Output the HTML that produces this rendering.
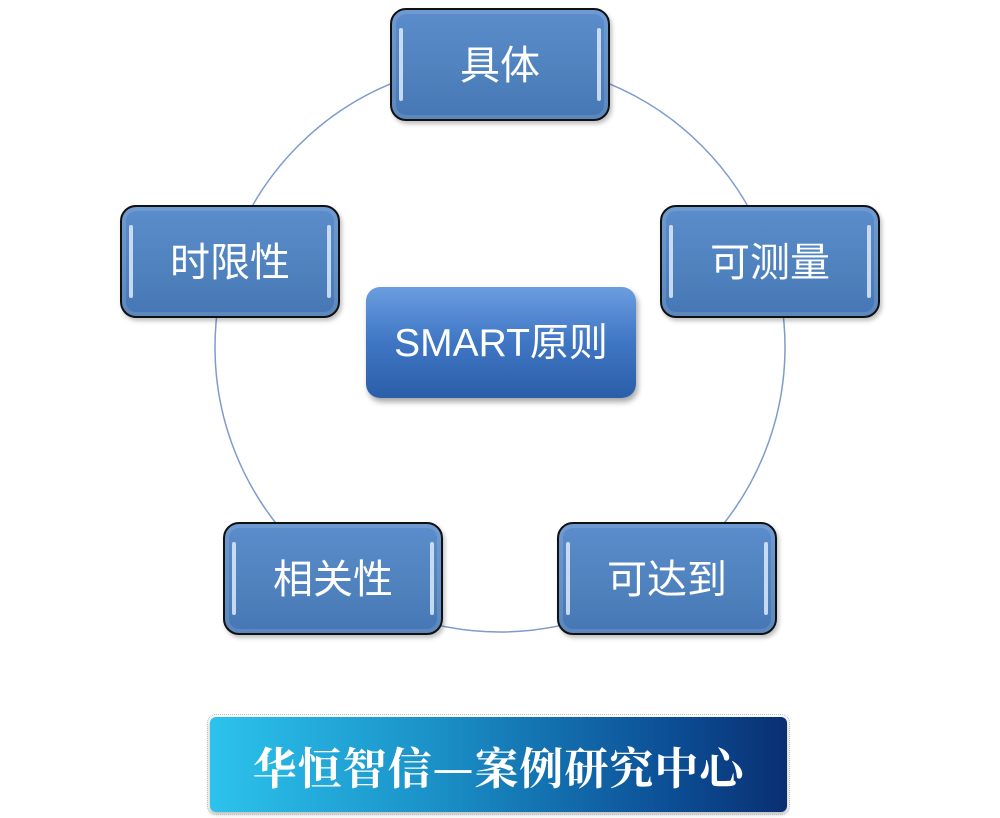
<!DOCTYPE html>
<html><head><meta charset="utf-8"><style>
body{margin:0;width:1000px;height:818px;background:#fff;position:relative;overflow:hidden;font-family:"Liberation Sans","Noto Sans CJK SC",sans-serif}
.b{position:absolute;width:216px;height:109px;border:2px solid #111;border-radius:16px;background:linear-gradient(#5b8dcc,#4f81bd 60%,#4677b5);color:#fff;font-size:40px;display:flex;align-items:center;justify-content:center;padding-bottom:5px;box-sizing:border-box;width:220px;height:113px;box-shadow:inset 0 0 0 4px rgba(255,255,255,.12),2px 3px 4px rgba(0,0,0,.25)}
.b:before,.b:after{content:"";position:absolute;top:18px;bottom:18px;width:4px;border-radius:2px;background:rgba(230,240,255,.8)}
.b:before{left:7px}.b:after{right:7px}
.c{position:absolute;left:366px;top:287px;width:270px;height:111px;border-radius:14px;background:linear-gradient(#6a9ee0,#3f76c4 50%,#2b5ea8);color:#fff;font-size:39px;display:flex;align-items:center;justify-content:center;padding-bottom:6px;box-sizing:border-box;box-shadow:2px 4px 6px rgba(0,0,0,.35)}
.ban{position:absolute;left:210px;top:717px;width:577px;height:95px;border-radius:6px;background:linear-gradient(90deg,#2cc3ec,#1a8fc6 40%,#0c4e95 80%,#0a2f72);color:#fff;font-family:"Noto Serif CJK SC",serif;font-weight:bold;font-size:44px;display:flex;align-items:center;justify-content:center;letter-spacing:1px;box-shadow:0 2px 4px rgba(0,0,0,.3);outline:1px dotted #bbb;outline-offset:2px}
</style></head><body>
<svg width="1000" height="818" style="position:absolute;left:0;top:0"><circle cx="500" cy="347" r="285" fill="none" stroke="#7d9ccc" stroke-width="1.5"/></svg>
<div class="b" style="left:390px;top:8px">具体</div>
<div class="b" style="left:120px;top:205px">时限性</div>
<div class="b" style="left:660px;top:205px">可测量</div>
<div class="b" style="left:223px;top:522px">相关性</div>
<div class="b" style="left:557px;top:522px">可达到</div>
<div class="c">SMART原则</div>
<div class="ban">华恒智信—案例研究中心</div>
</body></html>
